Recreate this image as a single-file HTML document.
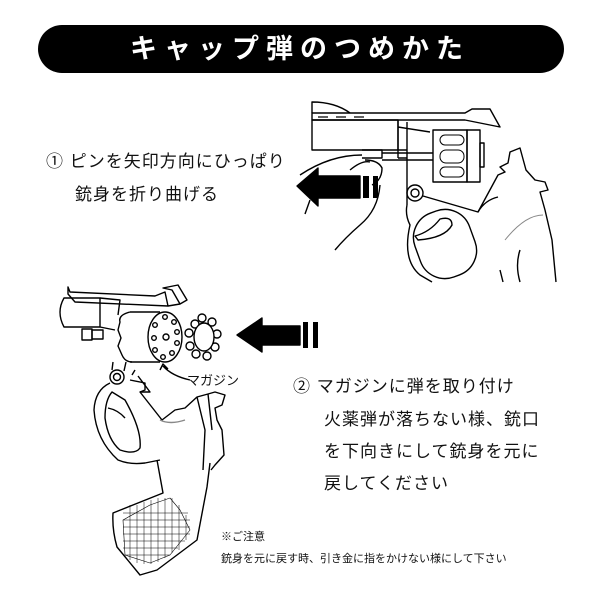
<!DOCTYPE html>
<html><head><meta charset="utf-8"><style>
body{margin:0;width:600px;height:600px;background:#fff;overflow:hidden;position:relative;font-family:"Liberation Sans","Noto Sans CJK JP",sans-serif;color:#111}
.t{position:absolute;white-space:nowrap}
</style></head><body>
<div style="position:absolute;left:38px;top:25px;width:526px;height:48px;background:#000;border-radius:24px"></div>
<div class="t" style="left:0;width:600px;top:29px;text-align:center;color:#fff;font-size:27px;font-weight:bold;letter-spacing:7px;line-height:40px">キャップ弾のつめかた</div>
<div class="t" style="left:46px;top:147px;font-size:17px;letter-spacing:1px">① ピンを矢印方向にひっぱり</div>
<div class="t" style="left:75px;top:180px;font-size:17px;letter-spacing:1px">銃身を折り曲げる</div>
<div class="t" style="left:293px;top:372px;font-size:17px;letter-spacing:1px">② マガジンに弾を取り付け</div>
<div class="t" style="left:324px;top:405px;font-size:17px;letter-spacing:1px">火薬弾が落ちない様、銃口</div>
<div class="t" style="left:324px;top:437px;font-size:17px;letter-spacing:1px">を下向きにして銃身を元に</div>
<div class="t" style="left:324px;top:469px;font-size:17px;letter-spacing:1px">戻してください</div>
<div class="t" style="left:187px;top:370px;font-size:13px">マガジン</div>
<div class="t" style="left:221px;top:528px;font-size:11px">※ご注意</div>
<div class="t" style="left:221px;top:550px;font-size:11px">銃身を元に戻す時、引き金に指をかけない様にして下さい</div>
<svg width="600" height="600" style="position:absolute;left:0;top:0" fill="none" stroke="#000" stroke-width="1.4" stroke-linejoin="round">
<!-- ===== top gun ===== -->
<path d="M312 113 L312 102 Q335 102 350 113"/>
<path d="M312 113 L465 113 L472 109 L490 109 L500 127 L465 120 L312 120 Z"/>
<path d="M318 117h10M336 117h10M354 117h10" stroke-width="1.2"/>
<rect x="312" y="120" width="86" height="30"/>
<path d="M398 120 V158 M407 122 V205 M398 127 L430 132"/>
<path d="M398 150 L407 150 M398 158 L407 158"/>
<path d="M362 150 L382 150 L382 158 L362 158 M382 153 L433 153 M382 160 L433 160"/>
<rect x="433" y="130" width="34" height="52"/>
<rect x="467" y="130" width="13" height="52"/>
<rect x="480" y="143" width="4" height="24"/>
<rect x="440" y="135" width="24" height="10" rx="5" stroke-width="1"/>
<rect x="440" y="150" width="24" height="13" rx="6" stroke-width="1"/>
<rect x="440" y="167" width="24" height="10" rx="5" stroke-width="1"/>
<circle cx="415" cy="193" r="8"/><circle cx="415" cy="193" r="4"/>
<path d="M423 196 L478 212 L498 175 L505 172 L500 167 L508 163 L510 152 L520 148 L526 170 L535 180 L545 182 L548 190 L540 192 L545 210 L552 240 L556 282"/>
<path d="M478 212 Q485 200 498 197"/>
<path d="M407 205 Q405 215 410 225 Q402 260 420 275 L432 282 M500 270 L503 282 M520 250 Q515 265 520 282"/>
<rect x="416" y="210" width="58" height="68" rx="26" transform="rotate(-20 445 244)"/>
<path d="M415 236 Q430 232 440 219 Q452 216 452 225 Q445 238 418 240 Z"/>
<path d="M505 240 Q525 215 543 215" stroke="#888" stroke-width="1"/>
<path d="M300 175 Q330 155 362 155 M365 160 Q378 160 382 168 Q382 180 372 185 M350 170 Q362 160 370 162 M380 185 Q378 210 360 225 Q345 238 335 250 M305 214 L310 200"/>
<path d="M297 186 L318 168 L318 176 L360 176 L360 198 L318 198 L318 206 Z" fill="#000"/>
<rect x="363" y="176" width="6" height="22" fill="#000" stroke="none"/>
<rect x="373" y="176" width="5" height="22" fill="#000" stroke="none"/>
<!-- ===== bottom gun ===== -->
<path d="M68 287 L70 292 L155 296 L165 292 L168 306 L75 302 L68 294 Z"/>
<path d="M163 288 L178 285 L187 300 L180 304 L172 290 Z M168 306 L180 304"/>
<path d="M100 298 L64 298 Q56 312 64 327 L100 327 Z"/>
<path d="M100 298 L120 300 L118 315 M100 327 L115 330"/>
<rect x="82" y="329" width="10" height="11"/><rect x="92" y="330" width="11" height="9"/>
<path d="M130 312 L160 312 M130 362 L160 362"/>
<path d="M130 312 Q118 315 120 322 L118 330 L121 338 L118 346 L122 355 Q125 362 132 362"/>
<ellipse cx="165" cy="337" rx="17" ry="25"/>
<g fill="#fff">
<circle cx="165" cy="317" r="2.3"/><circle cx="174" cy="322" r="2.3"/><circle cx="177" cy="332" r="2.3"/><circle cx="177" cy="343" r="2.3"/><circle cx="172" cy="353" r="2.3"/><circle cx="163" cy="357" r="2.3"/><circle cx="155" cy="350" r="2.3"/><circle cx="154" cy="338" r="2.3"/><circle cx="155" cy="325" r="2.3"/><circle cx="166" cy="337" r="3"/>
<circle cx="195" cy="324" r="4"/><circle cx="202" cy="318" r="4"/><circle cx="212" cy="322" r="4"/><circle cx="217" cy="334" r="4"/><circle cx="215" cy="347" r="4"/><circle cx="207" cy="356" r="4"/><circle cx="196" cy="354" r="4"/><circle cx="190" cy="346" r="4"/><circle cx="189" cy="333" r="4"/>
<ellipse cx="204" cy="337" rx="10" ry="14"/>
</g>
<path d="M190 380 Q172 376 163 366 M160 370 L163 364 L168 369"/>
<circle cx="117" cy="377" r="7"/><circle cx="117" cy="377" r="3.5"/>
<path d="M112 370 L113 362 M124 371 L126 362 M132 375 L135 370"/>
<path d="M130 380 L145 383 L145 390 L140 392 L162 420 L175 410 L185 408 L197 397 L208 394 L215 392 L225 395 L222 405 L215 408 L217 420 L222 430 L224 455 L215 465 L211 470"/>
<path d="M140 392 L150 392 L138 376"/>
<path d="M110 383 Q95 390 94 410 Q96 440 118 460 Q130 465 145 463 L160 460"/>
<path d="M112 392 Q105 400 105 418 Q108 440 120 450 Q135 455 140 448 Q142 430 125 400 Z"/>
<path d="M108 408 Q118 410 125 418"/>
<path d="M160 420 Q170 425 185 420" stroke="#888"/>
<path d="M197 397 L205 430 L203 470 M208 394 L212 430"/>
<path d="M157 460 L163 493 L113 513 Q112 530 117 547 L140 575 L157 570 L197 540 L207 487 L210 463"/>
<path d="M123 520 L150 505 L170 498 L180 510 L190 530 L170 555 L150 563 L125 555 Z" stroke-width="0.6"/>
<path d="M130 505v55 M137 505v58 M144 502v62 M151 500v64 M158 498v64 M165 498v60 M172 498v55 M179 505v45 M186 515v25 M123 513h65 M123 520h67 M123 527h67 M123 534h67 M123 541h62 M123 548h55 M125 555h45" stroke-width="0.5"/>
<path d="M237 335 L262 318 L262 326 L300 326 L300 345 L262 345 L262 352 Z" fill="#000"/>
<rect x="303" y="322" width="5" height="26" fill="#000" stroke="none"/>
<rect x="313" y="322" width="5" height="26" fill="#000" stroke="none"/>
</svg>
</body></html>
